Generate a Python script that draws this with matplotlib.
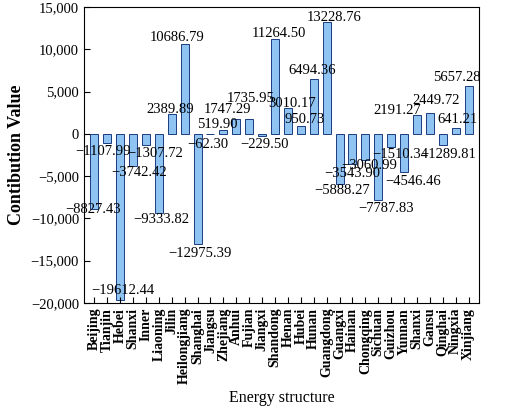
import matplotlib
matplotlib.use("Agg")
import matplotlib.pyplot as plt

provinces = ["Beijing","Tianjin","Hebei","Shanxi","Inner","Liaoning","Jilin","Heilongjiang","Shanghai","Jiangsu",
             "Zhejiang","Anhui","Fujian","Jiangxi","Shandong","Henan","Hubei","Hunan","Guangdong","Guangxi",
             "Hainan","Chongqing","Sichuan","Guizhou","Yunnan","Shanxi","Gansu","Qinghai","Ningxia","Xinjiang"]
values = [-8827.43,-1107.99,-19612.44,-3742.42,-1307.72,-9333.82,2389.89,10686.79,-12975.39,-62.30,
          519.90,1747.29,1735.95,-229.50,11264.50,3010.17,950.73,6494.36,13228.76,-5888.27,
          -3543.90,-3060.99,-7787.83,-1510.34,-4546.46,2191.27,2449.72,-1289.81,641.21,5657.28]

# label anchor positions (x in bar-index units, y in value units), as placed in the reference
label_x = [-0.1,0.7,2.2,3.5,4.7,5.2,5.9,6.4,8.2,8.8,
           9.5,10.3,12.1,13.2,14.3,15.3,16.3,16.9,18.6,19.2,
           20.0,21.3,22.6,23.7,24.7,23.5,26.5,27.4,28.1,28.1]
label_y = [-9000,-2140,-18570,-4620,-2260,-10180,2940,11450,-14100,-1310,
           1170,2830,4130,-1310,11920,3650,1760,7550,13820,-6750,
           -4740,-3680,-8880,-2490,-5690,2710,4010,-2490,1760,6730]

plt.rcParams['font.family'] = ['Liberation Serif']
fig = plt.figure(figsize=(5.2, 4.19), dpi=100)
ax = fig.add_axes([0.1615, 0.277, 0.7596, 0.706])
x = list(range(len(provinces)))
ax.bar(x, values, width=0.62, color='#8fc3f2', edgecolor='#1a3c80', linewidth=0.7)
for i, v in enumerate(values):
    ax.text(label_x[i], label_y[i], f"{v:.2f}".replace("-", "\u2212"), ha='center', va='center', fontsize=10.5)
ax.set_ylim(-20000, 15000)
ax.set_xlim(-0.8, 29.8)
ticks = list(range(-20000, 15001, 5000))
ax.set_yticks(ticks)
ax.set_yticklabels([f"{t:,}".replace("-", "\u2212") for t in ticks], fontsize=10.5)
ax.set_xticks(x)
ax.set_xticklabels(provinces, rotation=90, fontsize=10, fontweight='bold')
ax.tick_params(direction='in', length=4)
ax.set_ylabel("Contibution Value", fontsize=13, fontweight='bold')
ax.set_xlabel("Energy structure", fontsize=11.5)
fig.savefig("out.png", dpi=100)
